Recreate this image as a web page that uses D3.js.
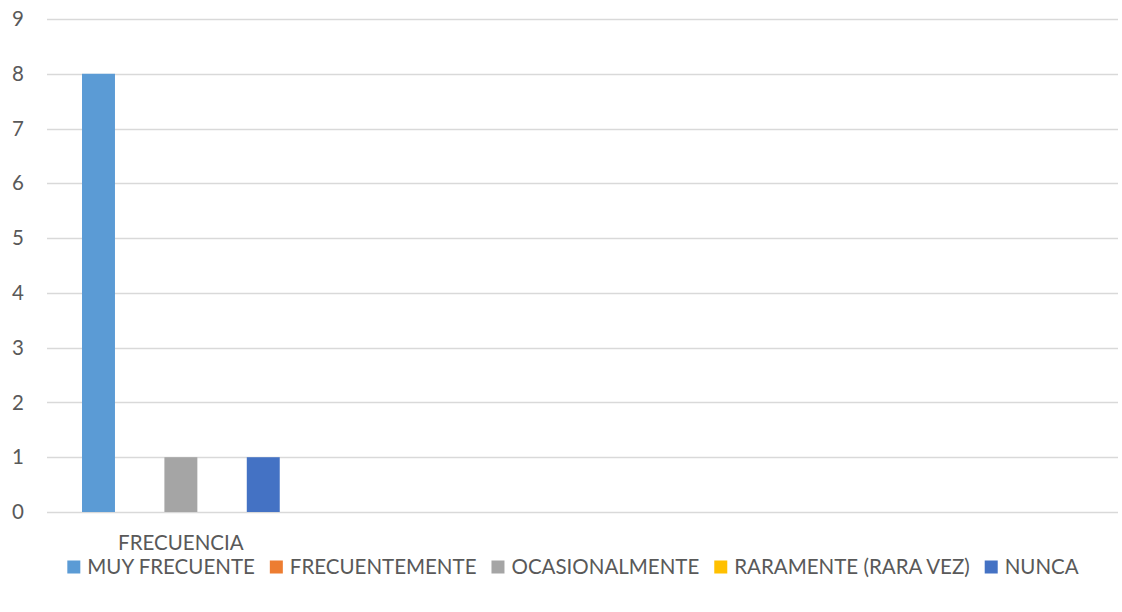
<!DOCTYPE html>
<html>
<head>
<meta charset="utf-8">
<script src="https://cdn.jsdelivr.net/npm/d3@7"></script>
<style>
  body { margin: 0; background: #fff; }
  text { font-family: Lato, "Open Sans", sans-serif; fill: #595959; }
</style>
</head>
<body>
<svg id="chart" width="1122" height="612"></svg>
<script>
// chart data
const categories = ["FRECUENCIA", "", "", ""];
const seriesNames = ["MUY FRECUENTE", "FRECUENTEMENTE", "OCASIONALMENTE", "RARAMENTE (RARA VEZ)", "NUNCA"];
const seriesColors = ["#5B9BD5", "#ED7D31", "#A5A5A5", "#FFC000", "#4472C4"];
const seriesValues = [[8], [0], [1], [0], [1]]; // one value per series, only the first category is filled
const yTicks = [0, 1, 2, 3, 4, 5, 6, 7, 8, 9];

const fontSize = 20.5;
const svg = d3.select("#chart");
const margin = { top: 19, right: 4, bottom: 100, left: 47 };
const width = +svg.attr("width");
const height = +svg.attr("height");
const innerWidth = width - margin.left - margin.right;
const innerHeight = 512 - margin.top;

const g = svg.append("g").attr("transform", `translate(${margin.left},${margin.top})`);

const x0 = d3.scaleBand().domain(d3.range(categories.length)).range([0, innerWidth]);
const x1 = d3.scaleBand().domain(seriesNames).range([0, x0.bandwidth()])
    .paddingInner(0.2).paddingOuter(0.85);
const y = d3.scaleLinear().domain([0, 9]).range([innerHeight, 0]);

// gridlines
g.append("g").selectAll("line").data(yTicks).join("line")
    .attr("x1", 0).attr("x2", innerWidth)
    .attr("y1", d => Math.round(y(d)) + 0.5).attr("y2", d => Math.round(y(d)) + 0.5)
    .attr("stroke", "#d9d9d9").attr("stroke-width", 1.3);

// y axis labels
const yAxis = d3.axisLeft(y).tickValues(yTicks).tickSize(0).tickPadding(0);
const yAxisGroup = g.append("g").attr("transform", "translate(-23,0)").call(yAxis);
yAxisGroup.select(".domain").remove();
yAxisGroup.selectAll("text").attr("font-size", fontSize).attr("fill", "#595959");

// bars
const cats = g.selectAll(".cat").data(categories.map((c, i) => i)).join("g")
    .attr("class", "cat")
    .attr("transform", i => `translate(${x0(i)},0)`);

cats.selectAll("rect")
    .data(i => seriesNames.map((s, k) => ({ s, k, v: seriesValues[k][i] })).filter(d => d.v !== undefined))
    .join("rect")
    .attr("x", d => x1(d.s))
    .attr("width", x1.bandwidth())
    .attr("y", d => y(d.v))
    .attr("height", d => y(0) - y(d.v))
    .attr("fill", d => seriesColors[d.k]);

// category labels
const xAxis = d3.axisBottom(x0).tickFormat(i => categories[i]).tickSize(0).tickPadding(0);
const xAxisGroup = g.append("g").attr("transform", `translate(0,${innerHeight + 31})`).call(xAxis);
xAxisGroup.select(".domain").remove();
xAxisGroup.selectAll(".tick").filter(i => categories[i] === "").remove();
xAxisGroup.selectAll("text").attr("font-size", fontSize).attr("fill", "#595959")
    .attr("dy", "0.35em");

// legend
const legend = svg.append("g").attr("transform", "translate(0,567)");
const items = legend.selectAll("g").data(seriesNames).join("g");
items.append("rect").attr("width", 13).attr("height", 13).attr("y", -6.5)
    .attr("fill", (d, i) => seriesColors[i]);
items.append("text").attr("x", 20).attr("dy", "0.35em").attr("font-size", fontSize).text(d => d);

let xpos = 0;
const offsets = [];
items.each(function () {
    offsets.push(xpos);
    xpos += 20 + this.querySelector("text").getComputedTextLength() + 15;
});
const total = xpos - 15;
const start = 573 - total / 2;
items.attr("transform", (d, i) => `translate(${start + offsets[i]},0)`);
</script>
</body>
</html>
